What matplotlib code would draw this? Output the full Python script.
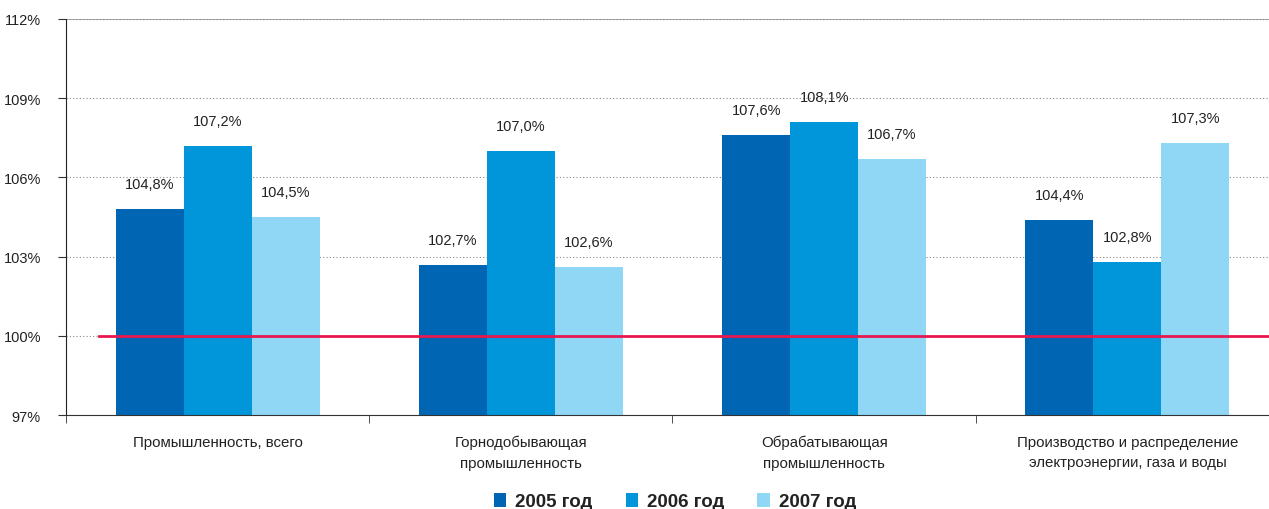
import numpy as np
import matplotlib.pyplot as plt
from matplotlib.ticker import FixedLocator

categories = ['Промышленность, всего',
              'Горнодобывающая\nпромышленность',
              'Обрабатывающая\nпромышленность',
              'Производство и распределение\nэлектроэнергии, газа и воды']
years = ['2005 год', '2006 год', '2007 год']
v2005 = [104.8, 102.7, 107.6, 104.4]
v2006 = [107.2, 107.0, 108.1, 102.8]
v2007 = [104.5, 102.6, 106.7, 107.3]
yticks = [97, 100, 103, 106, 109, 112]

colors = ['#0066b3', '#0096d9', '#8fd7f5']

plt.rcParams['font.family'] = ['Liberation Sans', 'DejaVu Sans']

fig = plt.figure(figsize=(12.69, 5.10), dpi=100)
ax = fig.add_axes([0.052, 0.184, 0.948, 0.777])

x = np.arange(len(categories))
w = 0.224
base = 97

for k, (vals, c, lab) in enumerate(zip([v2005, v2006, v2007], colors, years)):
    pos = x + (k - 1) * w
    ax.bar(pos, np.array(vals) - base, w, bottom=base, color=c, label=lab, zorder=2)
    for p, v in zip(pos, vals):
        ax.annotate('{:.1f}%'.format(v).replace('.', ','), (p, v),
                    xytext=(0, 18), textcoords='offset points',
                    ha='center', va='center', fontsize=10.5, color='#222222')

ax.set_xlim(-0.5, 3.467)
ax.set_ylim(97, 112)
ax.set_yticks(yticks)
ax.set_yticklabels(['{}%'.format(t) for t in yticks], fontsize=10.5, color='#222222')
ax.grid(axis='y', linestyle=(0, (1, 2)), color='#888888', linewidth=0.8, zorder=0)
ax.axhline(112, color='#999999', linewidth=1.2, zorder=1)

ax.plot([-0.39, 3.467], [100, 100], color='#e8174f', linewidth=2, zorder=3)

ax.set_xticks(x)
ax.set_xticklabels(categories, fontsize=10.8, color='#222222', linespacing=1.6,
                   va='top')
ax.tick_params(axis='x', length=0, pad=14)
ax.xaxis.set_minor_locator(FixedLocator([-0.5, 0.5, 1.5, 2.5]))
ax.tick_params(axis='x', which='minor', length=6, direction='out', color='#333333')
ax.tick_params(axis='y', length=6, color='#333333', pad=12)

for s in ['top', 'right']:
    ax.spines[s].set_visible(False)
ax.spines['left'].set_color('#222222')
ax.spines['bottom'].set_color('#333333')

leg = fig.legend(loc='lower center', bbox_to_anchor=(0.532, -0.036), ncol=3,
                 frameon=False, handlelength=0.65, handleheight=0.75,
                 columnspacing=1.75, handletextpad=0.5,
                 prop={'weight': 'bold', 'size': 13.5})
for t in leg.get_texts():
    t.set_color('#222222')

fig.savefig('out.png', dpi=100)
